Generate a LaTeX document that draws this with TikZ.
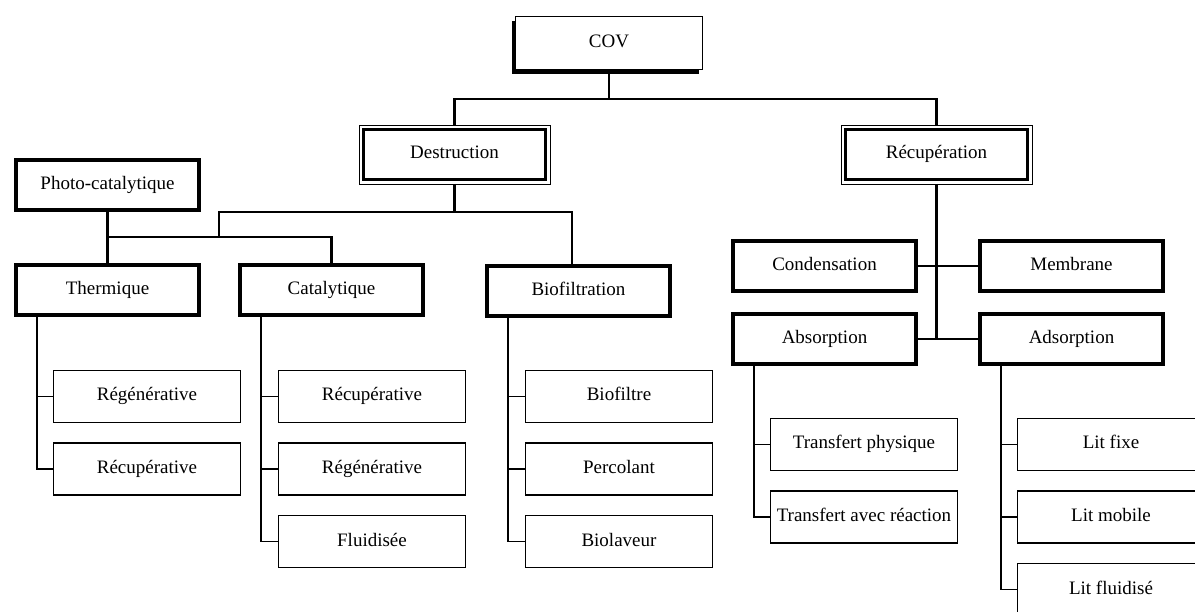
\documentclass[tikz,border=0pt]{standalone}
\usepackage{fontspec}
\setmainfont{Liberation Serif}
\usetikzlibrary{shadows,fit}

\begin{document}
\begin{tikzpicture}[x=1pt,y=-1pt,
	every node/.style={font=\fontsize{19}{22}\selectfont,inner sep=0pt,outer sep=0pt,text height=13pt,text depth=4pt},
	topbox/.style={rectangle,draw,line width=1pt,fill=white,minimum width=187,minimum height=53,
		drop shadow={shadow xshift=-3.5pt,shadow yshift=-4.5pt,fill=black,opacity=1}},
	mainbox/.style={rectangle,draw,line width=3pt,minimum width=182,minimum height=50},
	outline/.style={rectangle,draw,line width=0.8pt,inner sep=4.5pt},
	midbox/.style={rectangle,draw,line width=4pt,minimum width=183,minimum height=50},
	leaf/.style={rectangle,draw,line width=1.2pt,minimum width=187,minimum height=52},
	bus/.style={line width=2.8pt},
	twig/.style={line width=1.3pt},
	elbow/.style={to path={|- (\tikztotarget)}}]

	\useasboundingbox (0,0) rectangle (1195,612);
	\clip (0,0) rectangle (1195,612);

	\def\leafsep{72.5}

	\node[topbox] (cov) at (609,43) {COV};
	\node[mainbox] (des) at (454.5,154.5) {Destruction};
	\node[outline,fit=(des)] (desf) {};
	\node[mainbox] (rec) at (936.5,154.5) {Récupération};
	\node[outline,fit=(rec)] (recf) {};

	\node[midbox] (photo) at (107.5,185) {Photo-catalytique};
	\node[midbox] (therm) at (107.5,290.5) {Thermique};
	\node[midbox] (cata) at (331.5,290.5) {Catalytique};
	\node[midbox] (biof) at (578.5,291) {Biofiltration};
	\node[midbox] (cond) at (824.5,266) {Condensation};
	\node[midbox] (memb) at (1071.5,266) {Membrane};
	\node[midbox] (abso) at (824.5,339) {Absorption};
	\node[midbox] (adso) at (1071.5,339) {Adsorption};

	\node[leaf] (t1) at (147,396.5) {Régénérative};
	\node[leaf] (t2) at (147,396.5+\leafsep) {Récupérative};

	\node[leaf] (c1) at (372,396.5) {Récupérative};
	\node[leaf] (c2) at (372,396.5+\leafsep) {Régénérative};
	\node[leaf] (c3) at (372,396.5+2*\leafsep) {Fluidisée};

	\node[leaf] (b1) at (619,396.5) {Biofiltre};
	\node[leaf] (b2) at (619,396.5+\leafsep) {Percolant};
	\node[leaf] (b3) at (619,396.5+2*\leafsep) {Biolaveur};

	\node[leaf] (a1) at (864,444.5) {Transfert physique};
	\node[leaf] (a2) at (864,444.5+\leafsep) {Transfert avec réaction};

	\node[leaf] (s1) at (1111,444.5) {Lit fixe};
	\node[leaf] (s2) at (1111,444.5+\leafsep) {Lit mobile};
	\node[leaf] (s3) at (1111,444.5+2*\leafsep) {Lit fluidisé};

	% top level
	\coordinate (top) at (609,99);
	\draw[bus] (cov.south) -- (top);
	\draw[bus] (desf.north) |- (top) -| (recf.north);

	% destruction
	\coordinate (dbus) at (454.5,212);
	\coordinate (pbus) at (219,237);
	\draw[bus] (desf.south) -- (dbus);
	\draw[bus] ([xshift=-6.5pt]biof.north) |- (pbus |- dbus) -- (pbus);
	\draw[bus] (photo.south) -- (therm.north);
	\draw[bus] (therm.north |- pbus) -| (cata.north);

	% recuperation
	\draw[bus] (recf.south) -- (recf.south |- abso.east);
	\draw[bus] (cond) -- (memb);
	\draw[bus] (abso) -- (adso);

	\path[twig] ([xshift=21pt]therm.south west) edge[elbow] (t1.west) edge[elbow] (t2.west);
	\path[twig] ([xshift=21pt]cata.south west) edge[elbow] (c1.west) edge[elbow] (c2.west) edge[elbow] (c3.west);
	\path[twig] ([xshift=21pt]biof.south west) edge[elbow] (b1.west) edge[elbow] (b2.west) edge[elbow] (b3.west);
	\path[twig] ([xshift=21pt]abso.south west) edge[elbow] (a1.west) edge[elbow] (a2.west);
	\path[twig] ([xshift=21pt]adso.south west) edge[elbow] (s1.west) edge[elbow] (s2.west) edge[elbow] (s3.west);

\end{tikzpicture}
\end{document}
